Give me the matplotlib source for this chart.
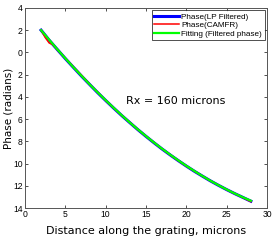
import numpy as np
import matplotlib
matplotlib.use('Agg')
import matplotlib.pyplot as plt

# distance along the grating (microns)
dist = [2, 3, 4, 5, 6, 7, 8, 9, 10, 11, 12, 13, 14, 15, 16, 17, 18, 19, 20,
        21, 22, 23, 24, 25, 26, 27, 28]
# fitted phase (filtered)
phase_fit = [2.00, 1.14, 0.29, -0.53, -1.33, -2.10, -2.86, -3.59, -4.30, -4.99,
             -5.66, -6.31, -6.93, -7.53, -8.11, -8.67, -9.20, -9.71, -10.20,
             -10.67, -11.12, -11.55, -11.95, -12.33, -12.69, -13.03, -13.34]
# low-pass filtered phase
phase_lp = [2.00, 1.10, 0.27, -0.55, -1.34, -2.12, -2.87, -3.61, -4.32, -5.01,
            -5.68, -6.32, -6.95, -7.55, -8.13, -8.69, -9.22, -9.73, -10.22,
            -10.69, -11.13, -11.56, -11.96, -12.34, -12.70, -13.04, -13.38]
# CAMFR phase (slightly noisy near the start)
dist_camfr = [2, 2.5, 3, 3.5, 4, 4.5, 5, 6, 7, 8, 9, 10, 11, 12, 13, 14, 15, 16,
              17, 18, 19, 20, 21, 22, 23, 24, 25, 26, 27, 28]
phase_camfr = [2.00, 1.35, 0.85, 0.68, 0.25, -0.12, -0.52, -1.30, -2.05, -2.85,
               -3.57, -4.31, -5.00, -5.67, -6.30, -6.94, -7.54, -8.12, -8.68,
               -9.21, -9.73, -10.22, -10.68, -11.12, -11.55, -11.95, -12.34,
               -12.70, -13.05, -13.42]

yticks = [4, 2, 0, -2, -4, -6, -8, -10, -12, -14]
ytick_labels = ['4', '2', '0', '2', '4', '6', '8', '10', '12', '14']
xticks = [0, 5, 10, 15, 20, 25, 30]

fig = plt.figure(figsize=(2.77, 2.40), dpi=100)
ax = fig.add_axes([0.090, 0.133, 0.874, 0.834])

ax.plot(dist, phase_lp, color='#0000ff', lw=2.2, label='Phase(LP Filtered)')
ax.plot(dist_camfr, phase_camfr, color='#ff0000', lw=1.1, label='Phase(CAMFR)')
ax.plot(dist, phase_fit, color='#00ff00', lw=1.6, label='Fitting (Filtered phase)')

ax.set_xlim(0, 30)
ax.set_ylim(-14, 4)
ax.set_xticks(xticks)
ax.set_yticks(yticks)
ax.set_yticklabels(ytick_labels)
ax.tick_params(direction='in', length=2, width=0.6, labelsize=6.2, pad=1.5,
               top=True, right=True, colors='#333333')
for lbl in ax.get_xticklabels() + ax.get_yticklabels():
    lbl.set_family('Liberation Sans')
    lbl.set_color('black')
for s in ax.spines.values():
    s.set_color('#555555')
    s.set_linewidth(0.7)

ax.set_xlabel('Distance along the grating, microns', fontsize=8, labelpad=5)
ax.set_ylabel('Phase (radians)', fontsize=7.5, labelpad=0)

ax.text(12.5, -4.4, 'Rx = 160 microns', fontsize=8, va='center', ha='left')

leg = ax.legend(loc='upper right', prop={'family': 'Liberation Sans', 'size': 5.9},
                frameon=True, fancybox=False, borderpad=0.3, labelspacing=0.12,
                handlelength=3.0, handletextpad=0.3, borderaxespad=0.3)
leg.get_frame().set_edgecolor('black')
leg.get_frame().set_linewidth(0.6)

fig.savefig('out.png', dpi=100)
